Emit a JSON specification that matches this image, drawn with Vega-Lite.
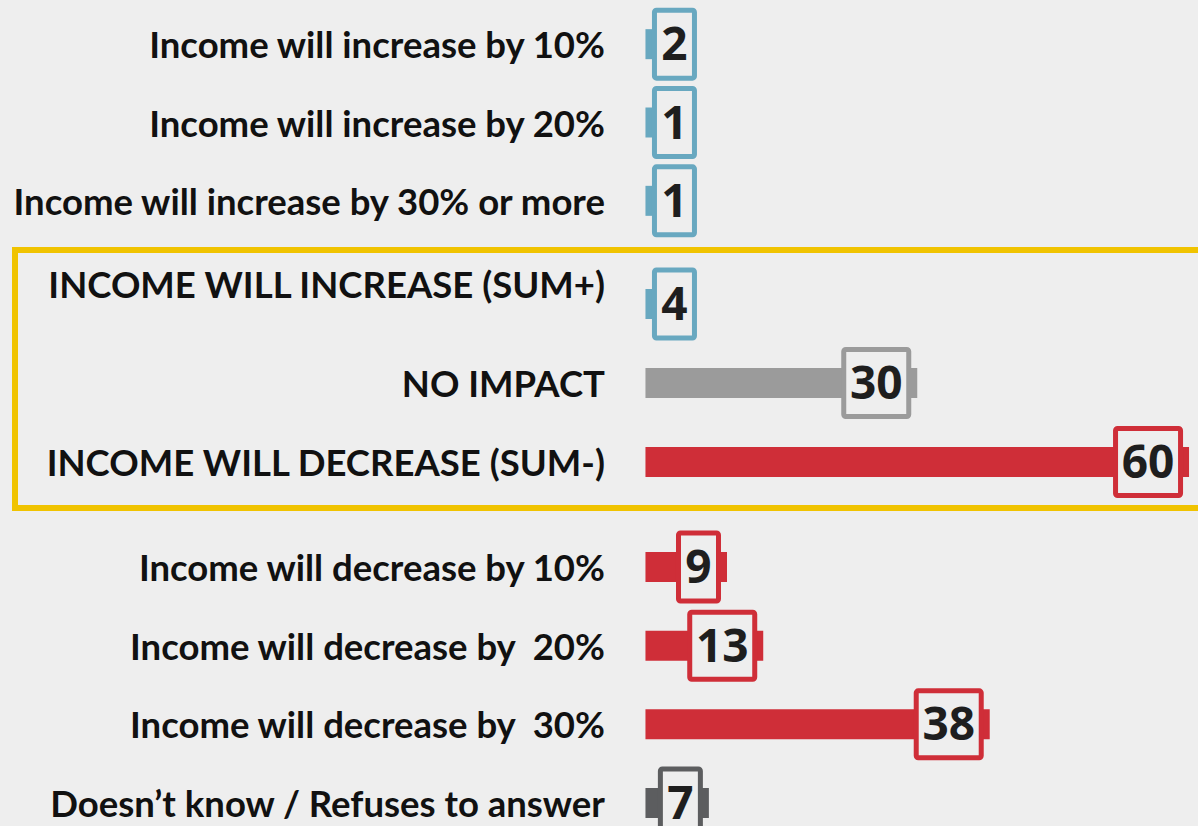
{
  "$schema": "https://vega.github.io/schema/vega-lite/v6.json",
  "background": "#eeeeee",
  "padding": {"left": 11, "top": 5, "right": 0, "bottom": 0},
  "config": {"view": {"stroke": null}, "concat": {"spacing": 7}},
  "datasets": {
    "rows": [
      {"section": "top", "label": "Income will increase by 10%", "value": 2, "cat": "inc"},
      {"section": "top", "label": "Income will increase by 20%", "value": 1, "cat": "inc"},
      {"section": "top", "label": "Income will increase by 30% or more", "value": 1, "cat": "inc"},
      {"section": "mid", "label": "INCOME WILL INCREASE (SUM+)", "value": 4, "cat": "inc"},
      {"section": "mid", "label": "NO IMPACT", "value": 30, "cat": "neu"},
      {"section": "mid", "label": "INCOME WILL DECREASE (SUM-)", "value": 60, "cat": "dec"},
      {"section": "bot", "label": "Income will decrease by 10%", "value": 9, "cat": "dec"},
      {"section": "bot", "label": "Income will decrease by \u00a020%", "value": 13, "cat": "dec"},
      {"section": "bot", "label": "Income will decrease by \u00a030%", "value": 38, "cat": "dec"},
      {"section": "bot", "label": "Doesn’t know / Refuses to answer", "value": 7, "cat": "dk"}
    ]
  },
  "vconcat": [
    {
      "width": 1186, "height": 235,
      "data": {"name": "rows"},
      "transform": [{"filter": "datum.section === 'top'"}],
      "encoding": {"y": {"field": "label", "type": "nominal", "sort": null, "axis": null, "scale": {"paddingInner": 0, "paddingOuter": 0}}},
      "layer": [
        {"mark": {"type": "bar", "height": 30},
         "encoding": {"x": {"field": "value", "type": "quantitative", "scale": {"domain": [-69.59, 61.32], "nice": false, "zero": false}, "axis": null},
                      "color": {"field": "cat", "type": "nominal", "scale": {"domain": ["inc", "neu", "dec", "dk"], "range": ["#68a8c0", "#9b9b9b", "#cf2e38", "#5c5d5f"]}, "legend": null}}},
        {"transform": [{"filter": "datum.value < 7"}],
         "mark": {"type": "bar", "height": 68, "fill": "#eeeeee", "strokeWidth": 5, "cornerRadius": 2, "xOffset": 9, "x2Offset": 49},
         "encoding": {"x": {"datum": 0, "type": "quantitative"}, "x2": {"datum": 0},
                      "stroke": {"field": "cat", "type": "nominal", "scale": {"domain": ["inc", "neu", "dec", "dk"], "range": ["#68a8c0", "#9b9b9b", "#cf2e38", "#5c5d5f"]}, "legend": null}}},
        {"transform": [{"filter": "datum.value < 7"}],
         "mark": {"type": "text", "font": "Open Sans", "fontWeight": "bold", "fontSize": 46, "color": "#1e1e1e", "baseline": "middle", "align": "center", "dx": 29, "dy": 2},
         "encoding": {"x": {"datum": 0, "type": "quantitative"}, "text": {"field": "value", "type": "quantitative"}}},
        {"mark": {"type": "text", "font": "Lato", "fontWeight": "bold", "fontSize": 36.5, "color": "#111111", "baseline": "middle", "align": "right", "dy": 3},
         "encoding": {"x": {"datum": -4.47, "type": "quantitative"}, "text": {"field": "label", "type": "nominal"}}}
      ]
    },
    {
      "width": 1186, "height": 258,
      "view": {"stroke": "#f0c300", "strokeWidth": 6},
      "data": {"name": "rows"},
      "transform": [{"filter": "datum.section === 'mid'"}],
      "encoding": {"y": {"field": "label", "type": "nominal", "sort": null, "axis": null, "scale": {"paddingInner": 0, "paddingOuter": 0.133, "align": 0.69}}},
      "layer": [
        {"mark": {"type": "bar", "height": 30},
         "encoding": {"x": {"field": "value", "type": "quantitative", "scale": {"domain": [-69.59, 61.32], "nice": false, "zero": false}, "axis": null},
                      "color": {"field": "cat", "type": "nominal", "scale": {"domain": ["inc", "neu", "dec", "dk"], "range": ["#68a8c0", "#9b9b9b", "#cf2e38", "#5c5d5f"]}, "legend": null}}},
        {"transform": [{"filter": "datum.value < 7"}],
         "mark": {"type": "bar", "height": 68, "fill": "#eeeeee", "strokeWidth": 5, "cornerRadius": 2, "xOffset": 9, "x2Offset": 49},
         "encoding": {"x": {"datum": 0, "type": "quantitative"}, "x2": {"datum": 0},
                      "stroke": {"field": "cat", "type": "nominal", "scale": {"domain": ["inc", "neu", "dec", "dk"], "range": ["#68a8c0", "#9b9b9b", "#cf2e38", "#5c5d5f"]}, "legend": null}}},
        {"transform": [{"filter": "datum.value >= 10"}],
         "mark": {"type": "bar", "height": 67, "fill": "#eeeeee", "strokeWidth": 5, "cornerRadius": 2, "xOffset": -73.5, "x2Offset": -8.5},
         "encoding": {"x": {"field": "value", "type": "quantitative"}, "x2": {"field": "value"},
                      "stroke": {"field": "cat", "type": "nominal", "scale": {"domain": ["inc", "neu", "dec", "dk"], "range": ["#68a8c0", "#9b9b9b", "#cf2e38", "#5c5d5f"]}, "legend": null}}},
        {"transform": [{"filter": "datum.value < 7"}],
         "mark": {"type": "text", "font": "Open Sans", "fontWeight": "bold", "fontSize": 46, "color": "#1e1e1e", "baseline": "middle", "align": "center", "dx": 29, "dy": 2},
         "encoding": {"x": {"datum": 0, "type": "quantitative"}, "text": {"field": "value", "type": "quantitative"}}},
        {"transform": [{"filter": "datum.value >= 10"}],
         "mark": {"type": "text", "font": "Open Sans", "fontWeight": "bold", "fontSize": 46, "color": "#1e1e1e", "baseline": "middle", "align": "center", "dx": -41, "dy": 2},
         "encoding": {"x": {"field": "value", "type": "quantitative"}, "text": {"field": "value", "type": "quantitative"}}},
        {"transform": [{"filter": "datum.label !== 'INCOME WILL INCREASE (SUM+)'"}],
         "mark": {"type": "text", "font": "Lato", "fontWeight": "bold", "fontSize": 36.5, "color": "#111111", "baseline": "middle", "align": "right", "dy": 3},
         "encoding": {"x": {"datum": -4.47, "type": "quantitative"}, "text": {"field": "label", "type": "nominal"}}},
        {"transform": [{"filter": "datum.label === 'INCOME WILL INCREASE (SUM+)'"}],
         "mark": {"type": "text", "font": "Lato", "fontWeight": "bold", "fontSize": 36.5, "color": "#111111", "baseline": "middle", "align": "right", "dy": -17},
         "encoding": {"x": {"datum": -4.47, "type": "quantitative"}, "text": {"field": "label", "type": "nominal"}}}
      ]
    },
    {
      "width": 1186, "height": 325,
      "data": {"name": "rows"},
      "transform": [{"filter": "datum.section === 'bot'"}],
      "encoding": {"y": {"field": "label", "type": "nominal", "sort": null, "axis": null, "scale": {"paddingInner": 0, "paddingOuter": 0.0655, "align": 0.94}}},
      "layer": [
        {"mark": {"type": "bar", "height": 30},
         "encoding": {"x": {"field": "value", "type": "quantitative", "scale": {"domain": [-69.59, 61.32], "nice": false, "zero": false}, "axis": null},
                      "color": {"field": "cat", "type": "nominal", "scale": {"domain": ["inc", "neu", "dec", "dk"], "range": ["#68a8c0", "#9b9b9b", "#cf2e38", "#5c5d5f"]}, "legend": null}}},
        {"transform": [{"filter": "datum.value < 10"}],
         "mark": {"type": "bar", "height": 68, "fill": "#eeeeee", "strokeWidth": 5, "cornerRadius": 2, "xOffset": -48.5, "x2Offset": -8.5},
         "encoding": {"x": {"field": "value", "type": "quantitative"}, "x2": {"field": "value"},
                      "stroke": {"field": "cat", "type": "nominal", "scale": {"domain": ["inc", "neu", "dec", "dk"], "range": ["#68a8c0", "#9b9b9b", "#cf2e38", "#5c5d5f"]}, "legend": null}}},
        {"transform": [{"filter": "datum.value >= 10"}],
         "mark": {"type": "bar", "height": 67, "fill": "#eeeeee", "strokeWidth": 5, "cornerRadius": 2, "xOffset": -73.5, "x2Offset": -8.5},
         "encoding": {"x": {"field": "value", "type": "quantitative"}, "x2": {"field": "value"},
                      "stroke": {"field": "cat", "type": "nominal", "scale": {"domain": ["inc", "neu", "dec", "dk"], "range": ["#68a8c0", "#9b9b9b", "#cf2e38", "#5c5d5f"]}, "legend": null}}},
        {"transform": [{"filter": "datum.value < 10"}],
         "mark": {"type": "text", "font": "Open Sans", "fontWeight": "bold", "fontSize": 46, "color": "#1e1e1e", "baseline": "middle", "align": "center", "dx": -28.5, "dy": 2},
         "encoding": {"x": {"field": "value", "type": "quantitative"}, "text": {"field": "value", "type": "quantitative"}}},
        {"transform": [{"filter": "datum.value >= 10"}],
         "mark": {"type": "text", "font": "Open Sans", "fontWeight": "bold", "fontSize": 46, "color": "#1e1e1e", "baseline": "middle", "align": "center", "dx": -41, "dy": 2},
         "encoding": {"x": {"field": "value", "type": "quantitative"}, "text": {"field": "value", "type": "quantitative"}}},
        {"mark": {"type": "text", "font": "Lato", "fontWeight": "bold", "fontSize": 36.5, "color": "#111111", "baseline": "middle", "align": "right", "dy": 3},
         "encoding": {"x": {"datum": -4.47, "type": "quantitative"}, "text": {"field": "label", "type": "nominal"}}}
      ]
    }
  ]
}
